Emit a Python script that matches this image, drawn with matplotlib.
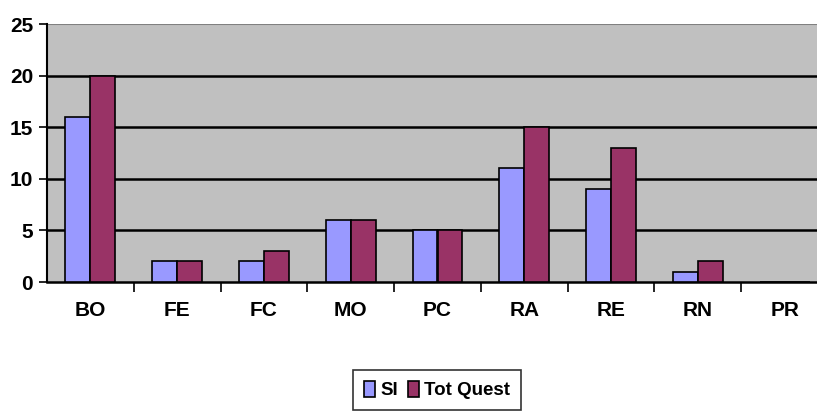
import matplotlib
matplotlib.use('Agg')
import matplotlib.pyplot as plt
import numpy as np

categories = ['BO', 'FE', 'FC', 'MO', 'PC', 'RA', 'RE', 'RN', 'PR']
si = [16, 2, 2, 6, 5, 11, 9, 1, 0]
tot_quest = [20, 2, 3, 6, 5, 15, 13, 2, 0]
yticks = [0, 5, 10, 15, 20, 25]

plt.rcParams['font.family'] = ['Liberation Sans Narrow', 'Liberation Sans', 'DejaVu Sans']
plt.rcParams['font.weight'] = 'bold'

fig = plt.figure(figsize=(8.17, 4.11), dpi=100)
# plot area runs past the right edge, as in the reference
ax = fig.add_axes([47/817, 1-282/411, 781/817, 258/411])
ax.set_facecolor('#c0c0c0')

x = np.arange(len(categories))
w = 0.288
ax.bar(x - w/2, si, w, color='#9999ff', edgecolor='black', linewidth=1.2, label='SI', zorder=3)
ax.bar(x + w/2, tot_quest, w, color='#993366', edgecolor='black', linewidth=1.2, label='Tot Quest', zorder=3)

ax.set_xlim(-0.5, len(categories) - 0.5)
ax.set_ylim(0, 25)
ax.set_yticks(yticks)
ax.set_yticklabels([str(v) for v in yticks], fontsize=15, fontweight='bold')
ax.set_xticks(x)
ax.set_xticklabels(categories, fontsize=15, fontweight='bold')
ax.tick_params(axis='x', length=0, pad=14)
ax.set_xticks(np.arange(0.5, len(categories) - 0.5), minor=True)
ax.tick_params(axis='x', which='minor', length=7, width=1.2, color='black')
ax.tick_params(axis='y', length=6, width=1.2, pad=4)

for v in yticks[1:-1]:
    ax.axhline(v, color='black', linewidth=1.8, zorder=1)
ax.axhline(25, color='#808080', linewidth=1.5, zorder=1)

for s in ['top', 'right']:
    ax.spines[s].set_visible(False)
ax.spines['left'].set_linewidth(1.5)
ax.spines['bottom'].set_linewidth(1.8)

leg = fig.legend(loc='center', bbox_to_anchor=(437/817, 1-390/411), ncol=2,
                 fontsize=13.5, frameon=True, fancybox=False, edgecolor='black',
                 handlelength=0.6, handleheight=1.0, handletextpad=0.3,
                 columnspacing=0.5, borderpad=0.55, borderaxespad=0)
leg.get_frame().set_linewidth(1.2)
for t in leg.get_texts():
    t.set_fontweight('bold')

fig.savefig('out.png', dpi=100)
